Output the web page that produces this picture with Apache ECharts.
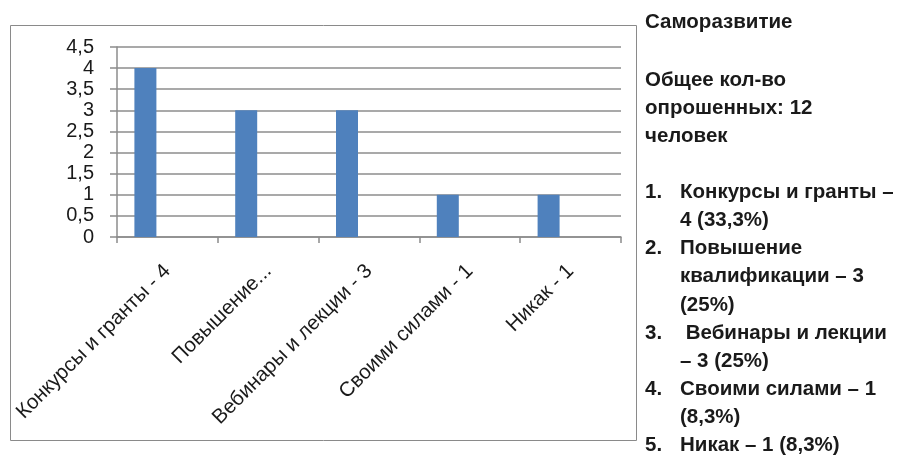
<!DOCTYPE html>
<html><head><meta charset="utf-8">
<script src="https://cdn.jsdelivr.net/npm/echarts@6/dist/echarts.min.js"></script>
<style>html,body{margin:0;padding:0;background:#fff}#c{width:899px;height:455px}</style>
</head><body><div id="c"></div>
<script>
const categories = ['Конкурсы и гранты - 4', 'Повышение...', 'Вебинары и лекции - 3', 'Своими силами - 1', 'Никак - 1'];
const values = [4, 3, 3, 1, 1];
const emptySeriesA = [];
const emptySeriesB = [];
const yMin = 0, yMax = 4.5, yStep = 0.5;
const sideTitle = 'Саморазвитие';
const sideInfo = ['Общее кол-во', 'опрошенных: 12', 'человек'];
const listNumbers = ['1.', '2.', '3.', '4.', '5.'];
const listLines = [
  ['Конкурсы и гранты –', '4 (33,3%)'],
  ['Повышение', 'квалификации – 3', '(25%)'],
  [' Вебинары и лекции', '– 3 (25%)'],
  ['Своими силами – 1', '(8,3%)'],
  ['Никак – 1 (8,3%)']
];

const chart = echarts.init(document.getElementById('c'), null, {renderer: 'canvas'});
const txtFont = '"Liberation Sans", Arial, sans-serif';
const sideStyle = {font: 'bold 20.5px ' + txtFont, fill: '#1a1a1a', textVerticalAlign: 'middle'};
const graphics = [
  {type: 'rect', shape: {x: 10.5, y: 25.5, width: 626, height: 415}, style: {fill: 'none', stroke: '#8a8a8a', lineWidth: 1}, z: -1}
];
const lineH = 28.1;
graphics.push({type: 'text', left: 645, top: 12, style: Object.assign({text: sideTitle}, sideStyle)});
sideInfo.forEach((t, i) => graphics.push({type: 'text', left: 645, top: 70 + i * lineH, style: Object.assign({text: t}, sideStyle)}));
let row = 0;
const listTop = 182;
listLines.forEach((lines, k) => {
  graphics.push({type: 'text', left: 645, top: listTop + row * lineH, style: Object.assign({text: listNumbers[k]}, sideStyle)});
  lines.forEach(l => {
    graphics.push({type: 'text', left: 680, top: listTop + row * lineH, style: Object.assign({text: l}, sideStyle)});
    row++;
  });
});

chart.setOption({
  animation: false,
  grid: {left: 117, right: 278, top: 47, bottom: 218},
  xAxis: {
    type: 'category', data: categories,
    axisLine: {lineStyle: {color: '#8c8c8c', width: 1.5}},
    axisTick: {show: true, length: 6, lineStyle: {color: '#8c8c8c', width: 1.5}},
    axisLabel: {rotate: 45, interval: 0, margin: 31, fontSize: 20.5, color: '#1a1a1a', fontFamily: txtFont, align: 'right', verticalAlign: 'middle'}
  },
  yAxis: {
    type: 'value', min: yMin, max: yMax, interval: yStep,
    axisLine: {show: true, lineStyle: {color: '#8c8c8c', width: 1.5}},
    axisTick: {show: true, length: 7, lineStyle: {color: '#8c8c8c', width: 1.5}},
    splitLine: {lineStyle: {color: '#8c8c8c', width: 1.5}},
    axisLabel: {margin: 23, fontSize: 20, color: '#1a1a1a', fontFamily: txtFont, formatter: v => String(v).replace('.', ',')}
  },
  series: [
    {type: 'bar', name: 'Ряд 1', data: values, barWidth: 22, barGap: '0%', itemStyle: {color: '#4f81bd'}},
    {type: 'bar', name: 'Ряд 2', data: emptySeriesA, barWidth: 22, barGap: '0%'},
    {type: 'bar', name: 'Ряд 3', data: emptySeriesB, barWidth: 22, barGap: '0%'}
  ],
  graphic: graphics
});
</script></body></html>
